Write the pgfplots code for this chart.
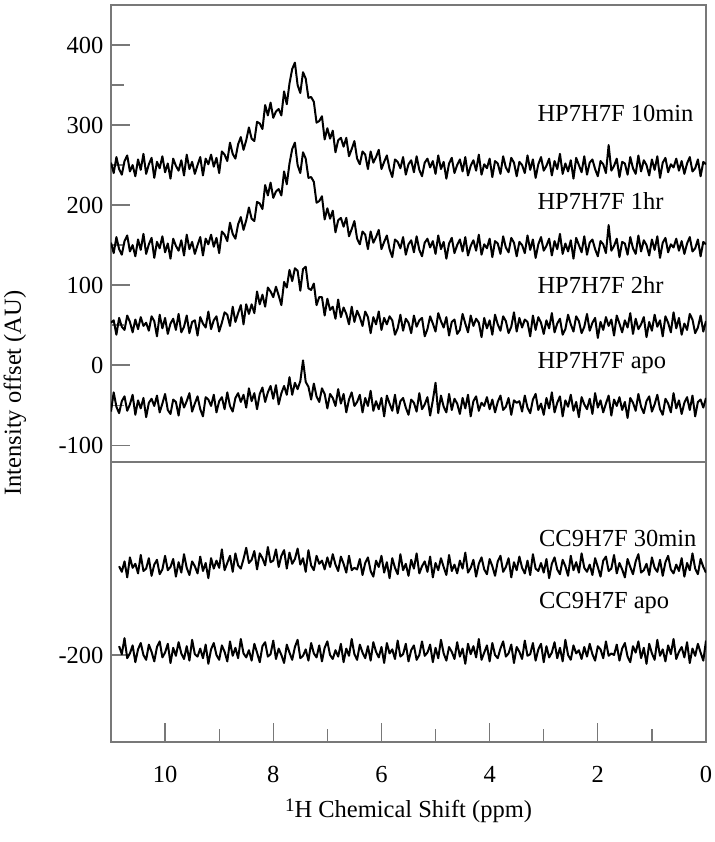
\documentclass[border=0pt]{standalone}
\usepackage{fontspec}
\setmainfont{Liberation Serif}
\usepackage{pgfplots}
\usepackage{pgfplotstable}
\pgfplotsset{compat=1.18}
\definecolor{axgray}{RGB}{120,120,120}
\pgfplotstableread{
x A B C D E
11.00 253 53 -58 -82 -202
10.95 240 56 -34 -100 -194
10.90 260 38 -52 -77 -205
10.85 245 59 -60 -89 -189
10.80 238 48 -45 -96 -199
10.75 255 44 -39 -83 -179
10.70 262 62 -57 -103 -204
10.65 242 54 -49 -78 -198
10.60 250 41 -37 -91 -188
10.55 236 57 -62 -86 -209
10.50 257 45 -44 -98 -193
10.45 244 60 -54 -75 -185
10.40 264 49 -41 -95 -200
10.35 239 53 -65 -92 -206
10.30 251 43 -47 -79 -187
10.25 259 61 -42 -101 -196
10.20 234 55 -51 -87 -208
10.15 254 36 -38 -81 -190
10.10 246 63 -59 -99 -183
10.05 261 46 -48 -93 -203
10.00 241 59 -36 -76 -197
9.95 252 39 -56 -94 -186
9.90 233 52 -61 -90 -210
9.85 258 58 -43 -80 -191
9.80 249 44 -46 -102 -201
9.75 243 64 -63 -84 -184
9.70 256 41 -40 -97 -198
9.65 237 48 -53 -74 -205
9.60 263 62 -45 -91 -189
9.55 245 40 -35 -100 -207
9.50 254 54 -58 -83 -181
9.45 239 56 -48 -89 -199
9.40 250 37 -39 -98 -202
9.35 260 60 -55 -77 -192
9.30 237 52 -64 -95 -204
9.25 258 47 -40 -85 -187
9.20 251 67 -43 -104 -211
9.15 263 45 -51 -79 -193
9.10 248 56 -37 -92 -185
9.05 259 61 -59 -82 -200
9.00 240 42 -45 -91 -206
8.95 267 53 -40 -68 -188
8.90 263 66 -55 -94 -196
8.85 255 63 -34 -85 -208
8.80 278 49 -51 -76 -183
8.75 264 73 -58 -96 -201
8.70 258 54 -41 -73 -191
8.65 276 65 -35 -88 -204
8.60 285 75 -46 -92 -180
8.55 269 51 -37 -80 -198
8.50 281 76 -53 -66 -203
8.45 297 64 -29 -85 -194
8.40 283 76 -45 -81 -207
8.35 280 65 -35 -70 -186
8.30 304 92 -55 -93 -197
8.25 302 76 -36 -73 -209
8.20 295 88 -28 -79 -189
8.15 325 73 -46 -88 -184
8.10 312 97 -34 -65 -202
8.05 328 92 -26 -84 -199
8.00 309 85 -42 -82 -182
7.95 317 98 -25 -68 -205
7.90 320 87 -49 -90 -192
7.85 312 75 -35 -76 -200
7.80 342 104 -26 -69 -210
7.75 326 97 -37 -92 -187
7.70 352 119 -15 -72 -197
7.65 370 105 -37 -86 -206
7.60 378 121 -22 -80 -190
7.55 350 118 -30 -67 -181
7.50 340 93 -20 -87 -204
7.45 366 120 6 -79 -201
7.40 358 123 -21 -96 -193
7.35 334 96 -27 -69 -207
7.30 335 94 -43 -88 -185
7.25 329 102 -23 -94 -198
7.20 303 75 -39 -76 -203
7.15 305 85 -46 -86 -188
7.10 311 85 -29 -82 -208
7.05 282 62 -36 -93 -191
7.00 296 83 -54 -78 -183
6.95 283 69 -36 -90 -200
6.90 293 73 -41 -74 -205
6.85 266 58 -51 -87 -194
6.80 281 82 -30 -95 -202
6.75 284 60 -48 -77 -186
6.70 273 72 -36 -86 -209
6.65 284 64 -59 -97 -192
6.60 261 51 -43 -76 -201
6.55 270 73 -34 -94 -180
6.50 280 54 -51 -91 -199
6.45 258 68 -46 -93 -206
6.40 251 60 -37 -80 -187
6.35 267 49 -59 -100 -197
6.30 263 67 -41 -85 -204
6.25 245 60 -51 -78 -189
6.20 267 40 -32 -95 -207
6.15 253 60 -57 -102 -184
6.10 260 51 -45 -82 -196
6.05 269 67 -55 -90 -203
6.00 245 44 -41 -76 -190
5.95 254 59 -64 -97 -210
5.90 262 51 -38 -84 -185
5.85 245 61 -48 -104 -198
5.80 235 56 -57 -79 -193
5.75 257 38 -37 -91 -205
5.70 254 46 -60 -99 -182
5.65 246 63 -45 -74 -202
5.60 260 43 -41 -94 -199
5.55 238 58 -53 -86 -186
5.50 251 53 -62 -101 -208
5.45 256 40 -43 -81 -194
5.40 241 62 -47 -92 -188
5.35 261 48 -58 -73 -206
5.30 244 56 -35 -98 -200
5.25 236 59 -55 -89 -183
5.20 253 36 -49 -83 -201
5.15 258 45 -40 -96 -197
5.10 247 61 -63 -77 -187
5.05 255 52 -44 -103 -209
5.00 239 42 -22 -85 -191
4.95 262 65 -60 -94 -204
4.90 245 55 -38 -79 -181
4.85 254 47 -52 -90 -198
4.80 233 60 -59 -100 -207
4.75 252 37 -36 -75 -190
4.70 259 54 -56 -95 -196
4.65 240 57 -42 -87 -205
4.60 250 39 -48 -98 -184
4.55 257 44 -61 -82 -202
4.50 242 64 -41 -92 -192
4.45 260 52 -54 -72 -211
4.40 237 41 -37 -97 -186
4.35 249 62 -64 -91 -199
4.30 256 49 -45 -81 -189
4.25 243 58 -39 -102 -203
4.20 263 53 -57 -86 -180
4.15 238 35 -47 -78 -206
4.10 251 59 -51 -93 -197
4.05 246 46 -40 -99 -188
4.00 258 56 -55 -80 -208
3.95 235 38 -43 -89 -185
3.90 255 63 -59 -101 -200
3.85 252 51 -46 -83 -204
3.80 239 43 -38 -76 -192
3.75 261 61 -56 -96 -183
3.70 247 55 -52 -90 -202
3.65 241 40 -41 -79 -198
3.60 259 48 -62 -103 -187
3.55 253 66 -44 -84 -210
3.50 236 42 -47 -94 -190
3.45 254 59 -45 -77 -196
3.40 250 47 -58 -91 -205
3.35 240 57 -38 -98 -182
3.30 262 54 -53 -82 -201
3.25 244 36 -60 -100 -199
3.20 257 62 -43 -74 -185
3.15 234 44 -36 -92 -207
3.10 251 60 -56 -95 -193
3.05 260 53 -48 -85 -186
3.00 243 39 -62 -97 -209
2.95 249 56 -41 -80 -189
2.90 258 46 -54 -104 -203
2.85 237 65 -34 -86 -197
2.80 255 41 -59 -78 -184
2.75 245 52 -47 -93 -204
2.70 264 58 -39 -99 -191
2.65 239 38 -64 -81 -208
2.60 252 45 -44 -89 -181
2.55 242 63 -52 -101 -200
2.50 256 51 -37 -76 -206
2.45 233 42 -57 -94 -188
2.40 259 61 -46 -84 -198
2.35 250 55 -65 -97 -194
2.30 241 40 -40 -73 -205
2.25 261 48 -49 -91 -190
2.20 238 64 -55 -96 -202
2.15 253 43 -42 -87 -186
2.10 257 53 -61 -100 -199
2.05 245 59 -35 -79 -207
2.00 236 34 -53 -90 -189
1.95 255 54 -44 -102 -193
1.90 251 44 -59 -82 -204
1.85 240 60 -48 -77 -183
1.80 275 49 -38 -95 -201
1.75 243 57 -63 -92 -198
1.70 249 37 -43 -75 -200
1.65 258 62 -51 -98 -187
1.60 235 52 -40 -85 -207
1.55 254 41 -56 -93 -192
1.50 252 56 -46 -103 -185
1.45 238 47 -66 -80 -202
1.40 260 65 -41 -90 -209
1.35 246 39 -47 -99 -189
1.30 239 58 -57 -83 -197
1.25 262 45 -36 -74 -183
1.20 242 51 -52 -97 -204
1.15 256 60 -60 -94 -191
1.10 250 35 -45 -86 -211
1.05 237 54 -39 -100 -186
1.00 257 43 -58 -78 -198
0.95 244 63 -49 -91 -206
0.90 261 48 -37 -96 -181
0.85 234 56 -55 -81 -201
0.80 253 36 -62 -101 -193
0.75 259 61 -42 -84 -208
0.70 241 53 -48 -76 -188
0.65 251 41 -59 -93 -199
0.60 247 66 -35 -98 -180
0.55 258 46 -54 -87 -205
0.50 243 59 -44 -95 -196
0.45 255 38 -61 -79 -190
0.40 239 52 -47 -102 -203
0.35 252 44 -40 -85 -184
0.30 260 64 -56 -94 -210
0.25 242 57 -38 -73 -192
0.20 246 40 -64 -92 -201
0.15 257 47 -46 -99 -186
0.10 236 62 -43 -80 -197
0.05 254 42 -53 -90 -207
0.00 251 55 -41 -97 -182
}\spectra

\begin{document}
\begin{tikzpicture}[font=\fontsize{24.5}{29}\selectfont]
\useasboundingbox (0pt,0pt) rectangle (714pt,842pt);
\pgfplotsset{
  every axis/.append style={
    scale only axis, width=595pt,
    xmin=0, xmax=11, x dir=reverse,
    axis line style={axgray, line width=1.3pt},
    tick style={axgray, line width=1.3pt},
    tick align=inside,
    major tick length=19pt, minor tick length=13pt,
    xtick pos=left, ytick pos=left,
    every tick label/.append style={font=\fontsize{24.5}{29}\selectfont, text=black},
    yticklabel style={xshift=-4pt},
  },
  trace/.style={black, line width=2pt, line join=round, no markers},
}
\begin{axis}[at={(111pt,380pt)}, anchor=south west, height=457pt,
  ymin=-121, ymax=450, xtick=\empty,
  ytick={-100,0,100,200,300,400}, yticklabels={-100,0,100,200,300,400},
  minor ytick={-50,50,150,250,350}]
\addplot[trace] table[x=x,y=A]{\spectra};
\addplot[trace] table[x=x,y expr=\thisrow{A}-100]{\spectra};
\addplot[trace] table[x=x,y=B]{\spectra};
\addplot[trace] table[x=x,y=C]{\spectra};
\node[anchor=base west] at (axis cs:3.18,304) {HP7H7F 10min};
\node[anchor=base west] at (axis cs:3.18,195) {HP7H7F 1hr};
\node[anchor=base west] at (axis cs:3.18,90) {HP7H7F 2hr};
\node[anchor=base west] at (axis cs:3.18,-4) {HP7H7F apo};
\end{axis}
\begin{axis}[at={(111pt,100pt)}, anchor=south west, height=280pt,
  ymin=-308.75, ymax=41.25,
  xtick={0,2,4,6,8,10}, xticklabels={0,2,4,6,8,10},
  minor xtick={1,3,5,7,9},
  xticklabel style={yshift=-21pt},
  ytick={-200}, yticklabels={-200}]
\addplot[trace, restrict x to domain=0:10.87] table[x=x,y=D]{\spectra};
\addplot[trace, restrict x to domain=0:10.87] table[x=x,y=E]{\spectra};
\node[anchor=base west] at (axis cs:3.15,-64.5) {CC9H7F 30min};
\node[anchor=base west] at (axis cs:3.15,-142.5) {CC9H7F apo};
\end{axis}
\node[rotate=90] at (15pt,449pt) {Intensity offset (AU)};
\node[anchor=base] at (408.5pt,24pt) {\raisebox{0.6ex}{\fontsize{19}{20}\selectfont 1}H Chemical Shift (ppm)};
\end{tikzpicture}
\end{document}
